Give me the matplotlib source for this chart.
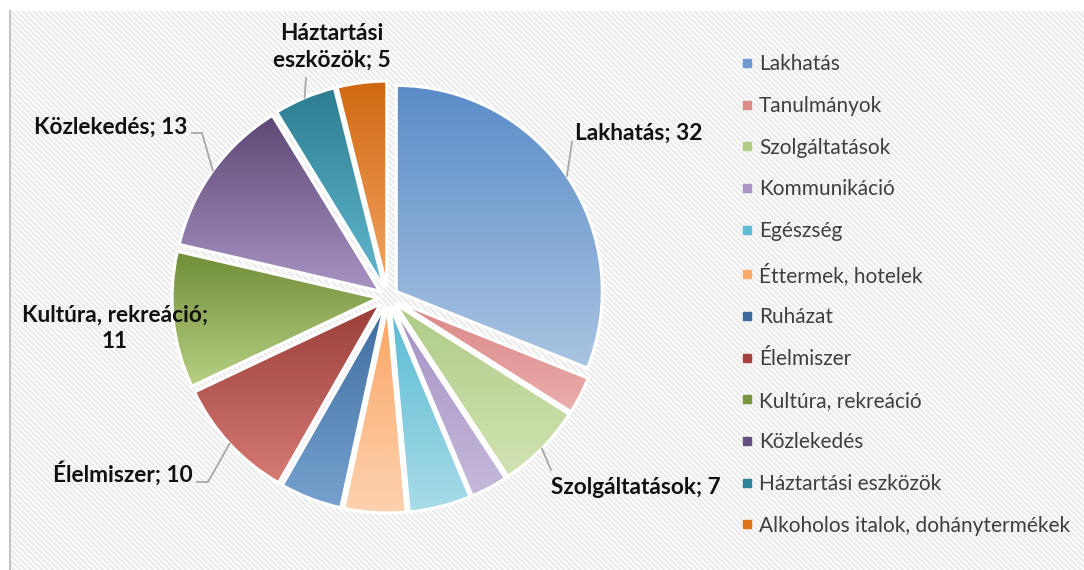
import numpy as np
import matplotlib
matplotlib.use("Agg")
import matplotlib.pyplot as plt
from matplotlib.colors import LinearSegmentedColormap
from matplotlib.patches import Rectangle
from matplotlib.lines import Line2D

# ---------------- data ----------------
categories = ["Lakhatás", "Tanulmányok", "Szolgáltatások", "Kommunikáció", "Egészség",
              "Éttermek, hotelek", "Ruházat", "Élelmiszer", "Kultúra, rekreáció",
              "Közlekedés", "Háztartási eszközök", "Alkoholos italok, dohánytermékek"]
values = [32, 3, 7, 3, 5, 5, 5, 10, 11, 13, 5, 4]

# ---------------- styles ----------------
top_colors = ["#5A8CC8", "#DA8785", "#AECB86", "#A391C3", "#58BAD3", "#FBA461",
              "#3F6C9E", "#9B3E3A", "#708D37", "#5D4775", "#2D7D91", "#D06812"]
bottom_colors = ["#AAC4E2", "#EAAEAD", "#D2E3B3", "#C6B9DA", "#A9DCE8", "#FDD2B0",
                 "#77A2D0", "#D67A76", "#B7D084", "#A893C3", "#63B9CF", "#F4A564"]
legend_colors = ["#6F9AD0", "#DE8C8A", "#AFCB85", "#A995C6", "#5FBDD5", "#FBAA6C",
                 "#3E6B9C", "#A6423E", "#789640", "#664F80", "#2F8398", "#E07216"]

W, H = 1084, 570
plt.rcParams['font.family'] = ['Lato', 'DejaVu Sans']
plt.rcParams['hatch.linewidth'] = 1.6

fig = plt.figure(figsize=(W / 100, H / 100), dpi=100)
ax = fig.add_axes([0, 0, 1, 1])
ax.set_axis_off()

def Y(y):
    return H - y

# background panel with diagonal stripes
bg = Rectangle((9, 0), W - 9, H - 11, facecolor="white", edgecolor="#ebebeb",
               linewidth=0, hatch="\\\\\\\\\\\\", zorder=0)
ax.add_patch(bg)
ax.plot([9.5, 9.5], [0, H - 11], color="#c4c4c4", lw=1.5, zorder=0.5)

# pie
cx, cy, R = 388, Y(297), 206
wedges, _ = ax.pie(values, startangle=90, counterclock=False, center=(cx, cy),
                   radius=R, explode=[10] * len(values),
                   wedgeprops=dict(edgecolor="white", linewidth=2.2), frame=True)
for w in wedges:
    w.set_zorder(3)

for w, c0, c1 in zip(wedges, top_colors, bottom_colors):
    v = w.get_path().vertices
    x0, x1 = v[:, 0].min(), v[:, 0].max()
    y0, y1 = v[:, 1].min(), v[:, 1].max()
    cmap = LinearSegmentedColormap.from_list("g", [c1, c0])
    grad = np.linspace(0, 1, 256).reshape(-1, 1)
    im = ax.imshow(grad, extent=[x0, x1, y0, y1], origin="lower", aspect="auto",
                   cmap=cmap, zorder=2, interpolation="bilinear")
    im.set_clip_path(w)
    w.set_facecolor("none")

ax.set_xlim(0, W)
ax.set_ylim(0, H)
ax.set_aspect("auto")

# data labels (layout: text position in px, alignment, leader points in px)
def anchor(w):
    tm = np.deg2rad((w.theta1 + w.theta2) / 2)
    return w.center[0] + w.r * np.cos(tm), w.center[1] + w.r * np.sin(tm)

label_layout = {
    0: dict(xy=(575, 133), ha="left", text=f"{categories[0]}; {values[0]}", lead=[(572, 142)]),
    2: dict(xy=(551, 487), ha="left", text=f"{categories[2]}; {values[2]}", lead=[(551, 470)]),
    7: dict(xy=(193, 473), ha="right", text=f"{categories[7]}; {values[7]}", lead=[(197, 482), (208, 482)]),
    8: dict(xy=(115, 328), ha="center", text=f"{categories[8]};\n{values[8]}", lead=None),
    9: dict(xy=(187, 127), ha="right", text=f"{categories[9]}; {values[9]}", lead=[(192, 133), (202, 133)]),
    10: dict(xy=(332, 47), ha="center", text="Háztartási\neszközök; 5", lead=[(306, 78)]),
}
for i, lay in label_layout.items():
    ax.text(lay["xy"][0], Y(lay["xy"][1]), lay["text"], ha=lay["ha"], va="center",
            fontsize=16.3, fontweight="bold", color="#111111", linespacing=1.3, zorder=5)
    if lay["lead"]:
        ax_, ay_ = anchor(wedges[i])
        xs = [p[0] for p in lay["lead"]] + [ax_]
        ys = [Y(p[1]) for p in lay["lead"]] + [ay_]
        ax.plot(xs, ys, color="#a6a6a6", lw=1.3, zorder=4)

# legend
handles = [Line2D([], [], marker="s", linestyle="none", markersize=6,
                  markerfacecolor=c, markeredgecolor=c) for c in legend_colors]
leg = ax.legend(handles, categories, loc="upper left",
                bbox_to_anchor=(729 / W, 1 - 44 / H), frameon=False,
                fontsize=15, labelspacing=1.04, handletextpad=0.25,
                handlelength=0.7, borderpad=0)
for t in leg.get_texts():
    t.set_color("#3f3f3f")

fig.savefig("out.png", dpi=100)
